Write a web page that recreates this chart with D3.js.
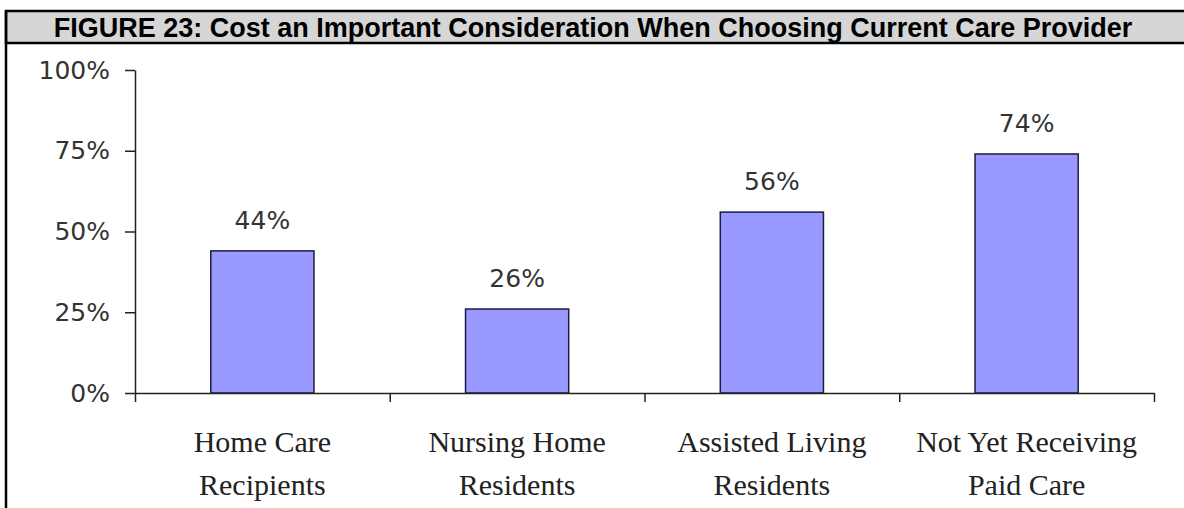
<!DOCTYPE html>
<html>
<head>
<meta charset="utf-8">
<script src="https://cdn.jsdelivr.net/npm/d3@7"></script>
<style>
  body { margin: 0; background: #fff; }
  svg { display: block; }
</style>
</head>
<body>
<svg id="chart" width="1184" height="508"></svg>
<script>
'use strict';

var title = 'FIGURE 23: Cost an Important Consideration When Choosing Current Care Provider';
var categories = [
  ['Home Care', 'Recipients'],
  ['Nursing Home', 'Residents'],
  ['Assisted Living', 'Residents'],
  ['Not Yet Receiving', 'Paid Care']
];
var values = [44, 26, 56, 74];
var yTicks = [0, 25, 50, 75, 100];

var svg = d3.select('#chart'),
    plot = { left: 135, right: 1154, top: 70, bottom: 393 };

// frame + grey title band
svg.append('rect')
  .attr('x', 6).attr('y', 11)
  .attr('width', 1184).attr('height', 32)
  .attr('fill', '#d6d6d6')
  .attr('stroke', '#000').attr('stroke-width', 2.5);
svg.append('line')
  .attr('x1', 6).attr('x2', 6)
  .attr('y1', 11).attr('y2', 508)
  .attr('stroke', '#000').attr('stroke-width', 2.5);
svg.append('text')
  .attr('x', 593).attr('y', 37)
  .attr('text-anchor', 'middle')
  .style('font', 'bold 27px "Liberation Sans", Arial, sans-serif')
  .attr('fill', '#000')
  .text(title);

var x = d3.scaleBand()
  .domain(d3.range(categories.length))
  .range([plot.left, plot.right])
  .paddingInner(0.595)
  .paddingOuter(0.2975);

// category boundaries for the tick marks
var xEdge = d3.scaleLinear()
  .domain([0, categories.length])
  .range([plot.left, plot.right]);

var y = d3.scaleLinear()
  .domain([0, 100])
  .range([plot.bottom, plot.top]);

// bars
svg.append('g').selectAll('rect')
  .data(values)
  .enter().append('rect')
  .attr('x', function (d, i) { return x(i); })
  .attr('y', function (d) { return y(d); })
  .attr('width', x.bandwidth())
  .attr('height', function (d) { return y(0) - y(d); })
  .attr('fill', '#9999ff')
  .attr('stroke', '#1c1c40')
  .attr('stroke-width', 1.5);

// value labels
svg.append('g').selectAll('text')
  .data(values)
  .enter().append('text')
  .attr('x', function (d, i) { return x(i) + x.bandwidth() / 2; })
  .attr('y', function (d) { return y(d) - 22; })
  .attr('text-anchor', 'middle')
  .style('font', '25px "DejaVu Sans", Verdana, sans-serif')
  .attr('fill', '#333')
  .text(function (d) { return d + '%'; });

// y axis
var yAxis = svg.append('g')
  .attr('transform', 'translate(' + plot.left + ',0)')
  .call(d3.axisLeft(y)
    .tickValues(yTicks)
    .tickFormat(function (d) { return d + '%'; })
    .tickSize(10)
    .tickSizeOuter(0)
    .tickPadding(15));
yAxis.selectAll('text')
  .style('font', '25px "DejaVu Sans", Verdana, sans-serif')
  .attr('fill', '#333');

// x axis
var xAxis = svg.append('g')
  .attr('transform', 'translate(0,' + plot.bottom + ')')
  .call(d3.axisBottom(xEdge)
    .tickValues(d3.range(categories.length + 1))
    .tickFormat('')
    .tickSize(9)
    .tickSizeOuter(0));

[yAxis, xAxis].forEach(function (g) {
  g.select('.domain').attr('stroke', '#222').attr('stroke-width', 1.5);
  g.selectAll('.tick line').attr('stroke', '#222').attr('stroke-width', 1.5);
});

// two-line category labels
var catLabels = svg.append('g').selectAll('text')
  .data(categories)
  .enter().append('text')
  .attr('text-anchor', 'middle')
  .style('font', '30px "Liberation Serif", "Times New Roman", serif')
  .attr('fill', '#222');

catLabels.selectAll('tspan')
  .data(function (d, i) {
    return d.map(function (line, j) { return { line: line, j: j, i: i }; });
  })
  .enter().append('tspan')
  .attr('x', function (d) { return x(d.i) + x.bandwidth() / 2; })
  .attr('y', function (d) { return plot.bottom + 59 + d.j * 43; })
  .text(function (d) { return d.line; });
</script>
</body>
</html>
